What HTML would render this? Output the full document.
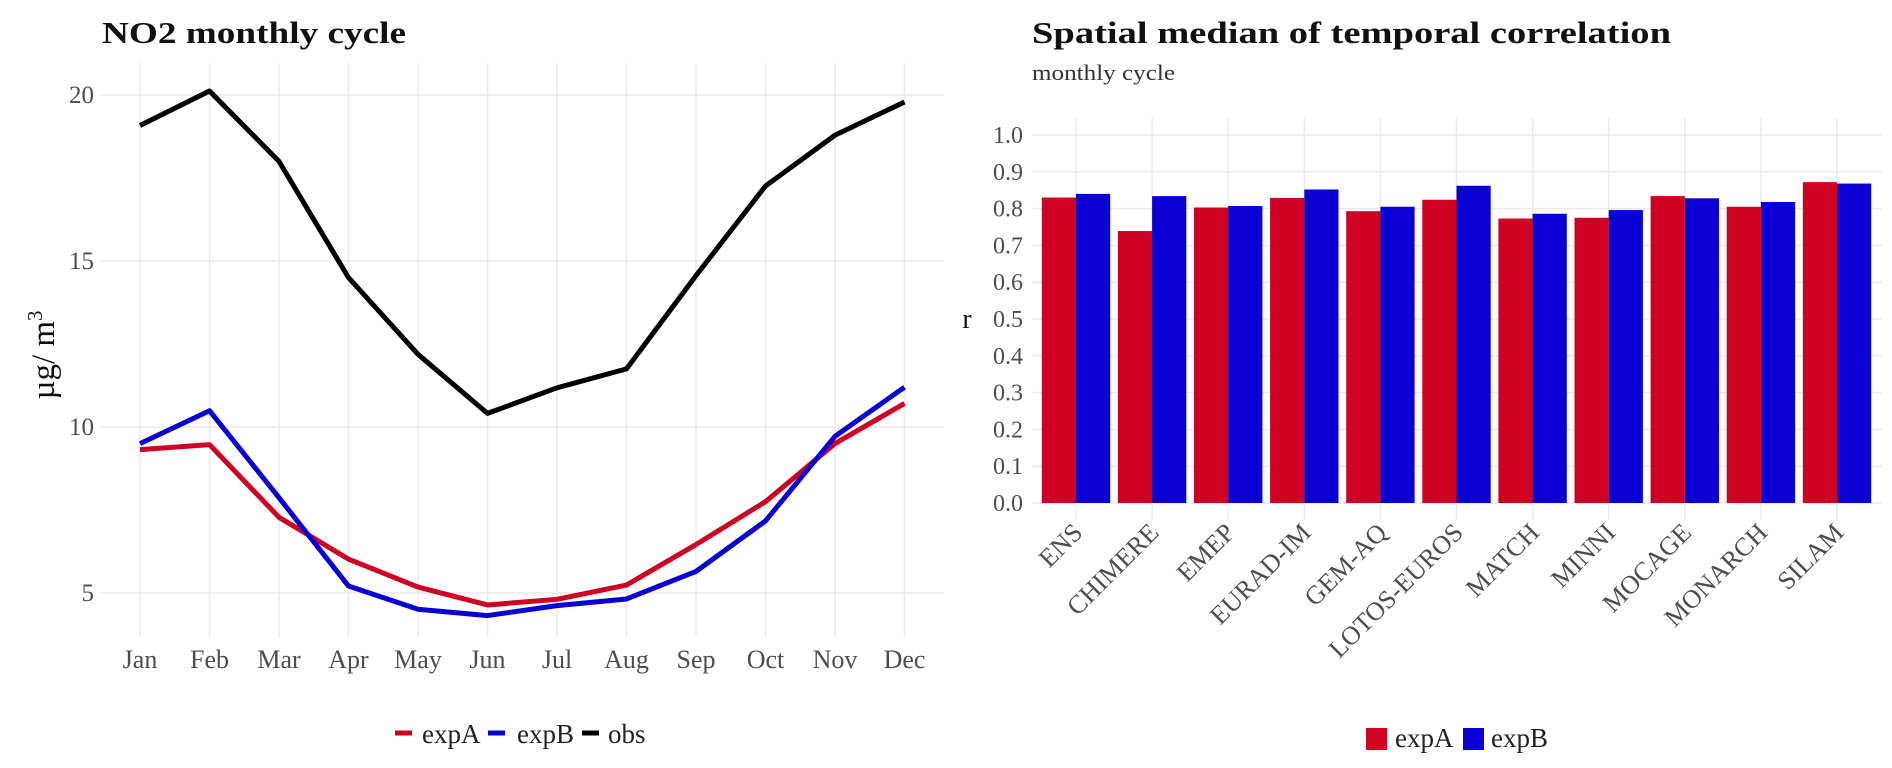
<!DOCTYPE html>
<html><head><meta charset="utf-8"><style>
html,body{margin:0;padding:0;background:#fff;}
svg{display:block;font-family:"Liberation Serif",serif;}
</style></head><body>
<svg id="svg" width="1892" height="768" viewBox="0 0 1892 768" xmlns="http://www.w3.org/2000/svg">
<text x="102" y="43" font-size="31" font-weight="bold" fill="#111" textLength="304" lengthAdjust="spacingAndGlyphs">NO2 monthly cycle</text>
<text transform="translate(54,355) rotate(-90)" text-anchor="middle" font-size="33" fill="#111">µg/ m<tspan dy="-12" font-size="21">3</tspan></text>
<g id="left"></g>
<text x="1032" y="43" font-size="31" font-weight="bold" fill="#111" textLength="639" lengthAdjust="spacingAndGlyphs">Spatial median of temporal correlation</text>
<text x="1032" y="80" font-size="22" fill="#333" textLength="143" lengthAdjust="spacingAndGlyphs">monthly cycle</text>
<text x="967" y="328" text-anchor="middle" font-size="28" fill="#111">r</text>
<g id="right"></g>
</svg>
<script>
const months = ["Jan","Feb","Mar","Apr","May","Jun","Jul","Aug","Sep","Oct","Nov","Dec"];
const obsValues = [19.08,20.12,18.0,14.5,12.19,10.41,11.18,11.75,14.56,17.26,18.79,19.79];
const expAValues = [9.32,9.47,7.28,6.02,5.18,4.64,4.81,5.24,6.46,7.75,9.50,10.71];
const expBValues = [9.50,10.49,7.87,5.21,4.51,4.32,4.62,4.82,5.65,7.17,9.72,11.2];
const leftTicks = [5,10,15,20];

const models = ["ENS","CHIMERE","EMEP","EURAD-IM","GEM-AQ","LOTOS-EUROS","MATCH","MINNI","MOCAGE","MONARCH","SILAM"];
const barA = [0.830,0.739,0.803,0.829,0.793,0.824,0.773,0.775,0.834,0.805,0.872];
const barB = [0.840,0.834,0.807,0.852,0.805,0.862,0.786,0.796,0.828,0.818,0.868];
const rightTicks = [0,0.1,0.2,0.3,0.4,0.5,0.6,0.7,0.8,0.9,1.0];

const NS="http://www.w3.org/2000/svg";
function mk(parent,tag,attrs,text){const e=document.createElementNS(NS,tag);for(const k in attrs)e.setAttribute(k,attrs[k]);if(text!==undefined)e.textContent=text;parent.appendChild(e);return e;}

// Left chart
const L=document.getElementById('left');
const lx=i=>140+i*69.5;
const ly=v=>95+(20-v)*33.2;
leftTicks.forEach(t=>{
  const g=mk(L,'line',{x1:100,x2:944,y1:ly(t),y2:ly(t),stroke:'#ebebeb','stroke-width':1.5});
  
  
  const tx=mk(L,'text',{x:94,y:ly(t)+8,'text-anchor':'end','font-size':25,fill:'#4d4d4d'},String(t));
  
  
});
months.forEach((m,i)=>{
  const g=mk(L,'line',{x1:lx(i),x2:lx(i),y1:63,y2:637,stroke:'#ebebeb','stroke-width':1.5});
  
  
  const tx=mk(L,'text',{x:lx(i),y:668,'text-anchor':'middle','font-size':26,fill:'#4d4d4d'},m);
  
  
});
function series(vals,color,name){
  const p=mk(L,'polyline',{points:vals.map((v,i)=>lx(i)+','+ly(v)).join(' '),fill:'none',stroke:color,'stroke-width':5,'stroke-linejoin':'round'});
  
  
}
series(obsValues,'#000','line-obs');
series(expAValues,'#d00022','line-expA');
series(expBValues,'#0a00d6','line-expB');
const legL=[['expA','#d00022',395,422],['expB','#0a00d6',488,517],['obs','#000',582,608]];
legL.forEach(([n,c,x,tx])=>{
  const k=mk(L,'line',{x1:x,x2:x+17,y1:733,y2:733,stroke:c,'stroke-width':5});
  
  
  const t=mk(L,'text',{x:tx,y:743,'font-size':27,fill:'#222'},n);
  
  
});

// Right chart
const R=document.getElementById('right');
const rx=i=>1076+i*76.1;
const ry=v=>503-v*368;
const bw=34.2;
rightTicks.forEach(t=>{
  const g=mk(R,'line',{x1:1032,x2:1882,y1:ry(t),y2:ry(t),stroke:'#ebebeb','stroke-width':1.5});
  
  
  const tx=mk(R,'text',{x:1023,y:ry(t)+8,'text-anchor':'end','font-size':24,fill:'#4d4d4d'},t.toFixed(1));
  
  
});
models.forEach((m,i)=>{
  const g=mk(R,'line',{x1:rx(i),x2:rx(i),y1:118,y2:520,stroke:'#ebebeb','stroke-width':1.5});
  
  
  const a=mk(R,'rect',{x:rx(i)-bw,y:ry(barA[i]),width:bw,height:ry(0)-ry(barA[i]),fill:'#d00022'});
  
  
  const b=mk(R,'rect',{x:rx(i),y:ry(barB[i]),width:bw,height:ry(0)-ry(barB[i]),fill:'#0a00d6'});
  
  
  const tx=mk(R,'text',{transform:'translate('+(rx(i)+8)+',534) rotate(-45)','text-anchor':'end','font-size':26,fill:'#4d4d4d'},m);
  
  
});
const legR=[['expA','#d00022',1366,1395],['expB','#0a00d6',1463,1491]];
legR.forEach(([n,c,x,tx])=>{
  const k=mk(R,'rect',{x:x,y:728,width:21,height:22,fill:c});
  
  
  const t=mk(R,'text',{x:tx,y:747,'font-size':27,fill:'#222'},n);
  
  
});
</script>
</body></html>
